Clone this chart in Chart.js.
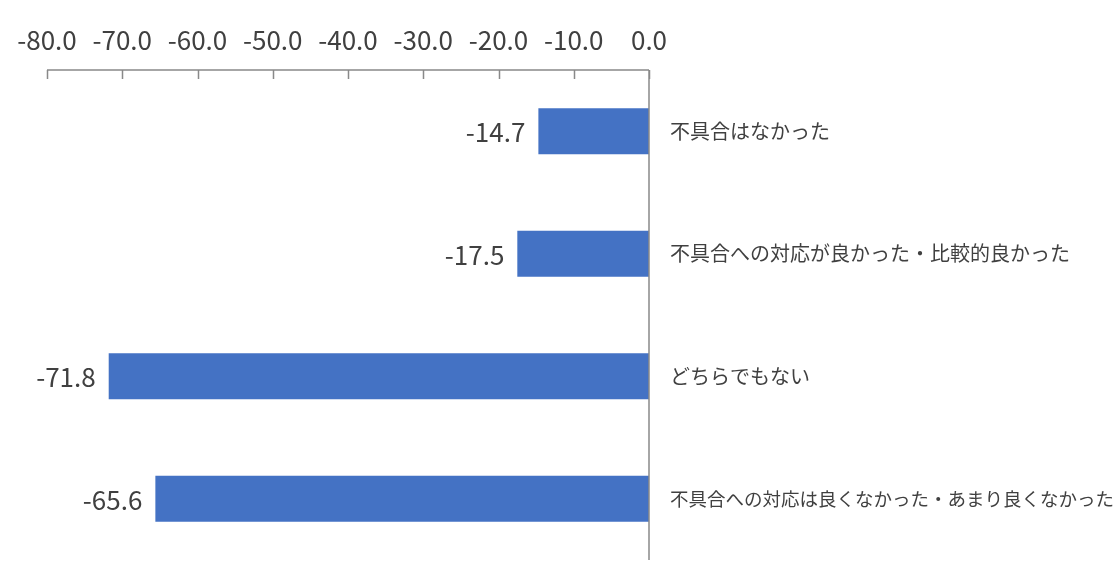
<!DOCTYPE html>
<html><head><meta charset="utf-8">
<script src="https://cdn.jsdelivr.net/npm/chart.js@4"></script>
<style>html,body{margin:0;padding:0;background:#fff;}#wrap{width:1118px;height:562px;}</style>
</head><body><div id="wrap"><canvas id="c" width="1118" height="562"></canvas></div>
<script>
const categories = ["不具合はなかった","不具合への対応が良かった・比較的良かった","どちらでもない","不具合への対応は良くなかった・あまり良くなかった"];
const values = [-14.7, -17.5, -71.8, -65.6];
const xMin = -80, xMax = 0, xStep = 10;

const FONT = '"Noto Sans CJK JP", "Noto Sans", sans-serif';
const TXT = '#404040';
const AXIS = '#898989';

const axisPlugin = {
  id: 'axisPlugin',
  afterDatasetsDraw(chart) {
    const ctx = chart.ctx, xs = chart.scales.x, ca = chart.chartArea;
    ctx.save();
    ctx.strokeStyle = AXIS;
    ctx.lineWidth = 1.5;
    ctx.beginPath();
    ctx.moveTo(xs.getPixelForValue(xMin), ca.top);
    ctx.lineTo(xs.getPixelForValue(xMax), ca.top);
    xs.ticks.forEach(t => {
      const px = Math.round(xs.getPixelForValue(t.value)) + 0.5;
      ctx.moveTo(px, ca.top);
      ctx.lineTo(px, ca.top + 9);
    });
    const zx = xs.getPixelForValue(0);
    ctx.moveTo(zx, ca.top);
    ctx.lineTo(zx, ca.bottom);
    ctx.stroke();
    ctx.fillStyle = TXT;
    ctx.font = '26px ' + FONT;
    ctx.textAlign = 'right';
    ctx.textBaseline = 'middle';
    chart.getDatasetMeta(0).data.forEach((bar, i) => {
      ctx.fillText(values[i].toFixed(1), bar.x - 13, bar.y + 1);
    });
    ctx.restore();
  }
};

new Chart(document.getElementById('c'), {
  type: 'bar',
  data: {
    labels: categories,
    datasets: [{ data: values, backgroundColor: '#4472C4', borderWidth: 0,
      categoryPercentage: 1, barPercentage: 0.375 }]
  },
  options: {
    indexAxis: 'y',
    responsive: false,
    animation: false,
    layout: { padding: { left: 47, right: 0, top: 0, bottom: 2 } },
    plugins: { legend: { display: false }, tooltip: { enabled: false } },
    scales: {
      x: {
        position: 'top', min: xMin, max: xMax,
        grid: { display: false }, border: { display: false },
        ticks: { stepSize: xStep, color: TXT, font: { size: 26, family: FONT }, padding: 6,
          callback: v => Number(v).toFixed(1), maxRotation: 0, autoSkip: false },
        afterFit: s => { s.height = 70; s.paddingLeft = 0; s.paddingRight = 0; s.paddingTop = 0; s.paddingBottom = 0; }
      },
      y: {
        position: 'right',
        grid: { display: false }, border: { display: false },
        ticks: { color: TXT, padding: 13,
          font: ctx => ({ size: (categories[ctx.index] || '').length > 22 ? 18.5 : 20, family: FONT }) },
        afterFit: s => { s.width = 469; s.paddingTop = 0; s.paddingBottom = 0; }
      }
    }
  },
  plugins: [axisPlugin]
});
</script></body></html>
